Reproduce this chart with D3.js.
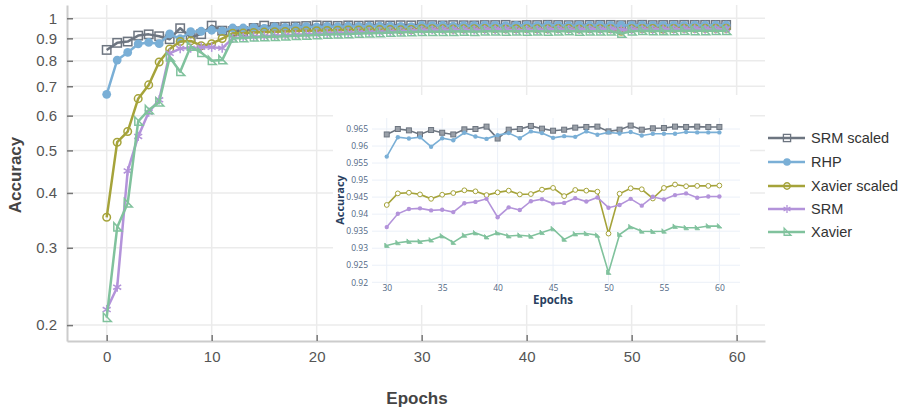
<!DOCTYPE html>
<html><head><meta charset="utf-8">
<script src="https://cdn.jsdelivr.net/npm/d3@7"></script>
<style>html,body{margin:0;padding:0;background:#fff;}svg{display:block;}</style>
</head><body>
<svg id="c" width="898" height="407"></svg>
<script>
// ---------- DATA ----------
const seriesNames = ["SRM scaled", "RHP", "Xavier scaled", "SRM", "Xavier"];
const epochsMain = d3.range(0, 60);
const srmScaled = [0.847,0.879,0.885,0.913,0.919,0.910,0.896,0.949,0.905,0.920,0.962,0.937,0.935,
  0.935,0.950,0.962,0.955,0.957,0.958,0.960,0.963,0.962,0.961,0.963,0.962,0.963,0.964,0.963,0.964,
  0.9634,0.9650,0.9646,0.9634,0.9647,0.9639,0.9634,0.9649,0.9650,0.9657,0.9622,0.9648,0.9650,0.9659,0.9651,0.9645,0.9648,0.9654,0.9656,0.9657,0.9643,0.9648,0.9660,0.9648,0.9652,0.9653,0.9657,0.9656,0.9657,0.9656,0.9656];
const rhp = [0.671,0.803,0.836,0.874,0.881,0.875,0.921,0.898,0.932,0.934,0.939,0.936,0.950,
  0.950,0.952,0.948,0.955,0.953,0.956,0.957,0.955,0.958,0.957,0.959,0.958,0.960,0.959,0.960,0.958,
  0.9569,0.9626,0.9622,0.9626,0.9598,0.9623,0.9617,0.9639,0.9628,0.9621,0.9632,0.9638,0.9623,0.9643,0.9638,0.9624,0.9629,0.9627,0.9643,0.9633,0.9640,0.9637,0.9641,0.9631,0.9636,0.9636,0.9636,0.9641,0.9640,0.9640,0.9640];
const xavierScaled = [0.352,0.522,0.552,0.656,0.705,0.795,0.851,0.885,0.888,0.866,0.875,0.899,0.924,
  0.925,0.928,0.930,0.932,0.933,0.935,0.936,0.937,0.938,0.939,0.940,0.940,0.941,0.942,0.942,0.941,
  0.9427,0.9461,0.9463,0.9458,0.9445,0.9457,0.9462,0.9470,0.9467,0.9456,0.9464,0.9469,0.9458,0.9459,0.9472,0.9477,0.9453,0.9471,0.9469,0.9466,0.9343,0.9460,0.9476,0.9473,0.9446,0.9477,0.9487,0.9482,0.9483,0.9483,0.9484];
const srm = [0.217,0.244,0.449,0.538,0.611,0.652,0.832,0.853,0.855,0.859,0.859,0.855,0.900,
  0.905,0.908,0.910,0.912,0.915,0.917,0.920,0.922,0.924,0.925,0.927,0.929,0.930,0.931,0.933,0.934,
  0.9362,0.9401,0.9415,0.9417,0.9411,0.9413,0.9406,0.9432,0.9436,0.9445,0.9391,0.9420,0.9412,0.9438,0.9444,0.9431,0.9433,0.9447,0.9437,0.9449,0.9419,0.9427,0.9445,0.9425,0.9451,0.9443,0.9456,0.9461,0.9448,0.9452,0.9452];
const xavier = [0.208,0.334,0.379,0.582,0.618,0.644,0.815,0.755,0.862,0.835,0.800,0.803,0.900,
  0.902,0.905,0.907,0.908,0.910,0.912,0.914,0.916,0.918,0.920,0.921,0.923,0.924,0.926,0.928,0.929,
  0.9308,0.9316,0.9320,0.9320,0.9324,0.9336,0.9317,0.9338,0.9345,0.9333,0.9345,0.9336,0.9338,0.9335,0.9346,0.9357,0.9326,0.9342,0.9343,0.9338,0.9229,0.9340,0.9363,0.9350,0.9349,0.9350,0.9364,0.9360,0.9360,0.9365,0.9365];

const epochsInset = d3.range(30, 61);
const insetSrmScaled = [0.9634,0.9650,0.9646,0.9634,0.9647,0.9639,0.9634,0.9649,0.9650,0.9657,0.9622,0.9648,0.9650,0.9659,0.9651,0.9645,0.9648,0.9654,0.9656,0.9657,0.9643,0.9648,0.9660,0.9648,0.9652,0.9653,0.9657,0.9656,0.9657,0.9656,0.9656];
const insetRhp = [0.9569,0.9626,0.9622,0.9626,0.9598,0.9623,0.9617,0.9639,0.9628,0.9621,0.9632,0.9638,0.9623,0.9643,0.9638,0.9624,0.9629,0.9627,0.9643,0.9633,0.9640,0.9637,0.9641,0.9631,0.9636,0.9636,0.9636,0.9641,0.9640,0.9640,0.9640];
const insetXavierScaled = [0.9427,0.9461,0.9463,0.9458,0.9445,0.9457,0.9462,0.9470,0.9467,0.9456,0.9464,0.9469,0.9458,0.9459,0.9472,0.9477,0.9453,0.9471,0.9469,0.9466,0.9343,0.9460,0.9476,0.9473,0.9446,0.9477,0.9487,0.9482,0.9483,0.9483,0.9484];
const insetSrm = [0.9362,0.9401,0.9415,0.9417,0.9411,0.9413,0.9406,0.9432,0.9436,0.9445,0.9391,0.9420,0.9412,0.9438,0.9444,0.9431,0.9433,0.9447,0.9437,0.9449,0.9419,0.9427,0.9445,0.9425,0.9451,0.9443,0.9456,0.9461,0.9448,0.9452,0.9452];
const insetXavier = [0.9308,0.9316,0.9320,0.9320,0.9324,0.9336,0.9317,0.9338,0.9345,0.9333,0.9345,0.9336,0.9338,0.9335,0.9346,0.9357,0.9326,0.9342,0.9343,0.9338,0.9229,0.9340,0.9363,0.9350,0.9349,0.9350,0.9364,0.9360,0.9360,0.9365,0.9365];

const mainYTicks = [0.2,0.3,0.4,0.5,0.6,0.7,0.8,0.9,1];
const mainXTicks = [0,10,20,30,40,50,60];
const insetYTicks = [0.92,0.925,0.93,0.935,0.94,0.945,0.95,0.955,0.96,0.965];
const insetXTicks = [30,35,40,45,50,55,60];

// ---------- STYLE ----------
const colors = ["#6d7580", "#7aafd6", "#a5a33a", "#b393da", "#80c29d"];
const markers = ["square", "dot", "circle", "star", "tri"];
const mainSeries = [srmScaled, rhp, xavierScaled, srm, xavier];
const insetSeries = [insetSrmScaled, insetRhp, insetXavierScaled, insetSrm, insetXavier];

const svg = d3.select("#c");
const FONT = "'Liberation Sans', Arial, sans-serif";

function drawMarker(g, type, color, s, sw) {
  if (type === "square") {
    g.append("rect").attr("x", -s).attr("y", -s).attr("width", 2*s).attr("height", 2*s)
      .attr("fill", "none").attr("stroke", color).attr("stroke-width", sw);
  } else if (type === "dot") {
    g.append("circle").attr("r", s*1.05).attr("fill", color);
  } else if (type === "circle") {
    g.append("circle").attr("r", s*0.9).attr("fill", "none").attr("stroke", color).attr("stroke-width", sw);
  } else if (type === "star") {
    [0, 60, 120].forEach(a => {
      const r = a * Math.PI / 180, dx = Math.sin(r)*s*1.1, dy = Math.cos(r)*s*1.1;
      g.append("line").attr("x1", -dx).attr("y1", -dy).attr("x2", dx).attr("y2", dy)
        .attr("stroke", color).attr("stroke-width", sw);
    });
  } else if (type === "tri") {
    g.append("path").attr("d", `M${-s*0.8},${-s*1.1} L${-s*0.8},${s*0.9} L${s*1.1},${s*0.9} Z`)
      .attr("fill", "none").attr("stroke", color).attr("stroke-width", sw);
  }
}

// ---------- MAIN CHART ----------
const L = 67, R = 765, T = 5, B = 341;
const x = d3.scaleLinear().domain([-3.78, 62.7]).range([L, R]);
const y = d3.scaleLog().domain([0.184, 1.072]).range([B, T]);

const grid = svg.append("g");
mainYTicks.forEach(t => grid.append("line").attr("x1", L).attr("x2", R).attr("y1", y(t)).attr("y2", y(t))
  .attr("stroke", "#ebebeb").attr("stroke-width", 1.5));
mainXTicks.forEach(t => grid.append("line").attr("x1", x(t)).attr("x2", x(t)).attr("y1", T).attr("y2", B)
  .attr("stroke", "#ebebeb").attr("stroke-width", 1.5));

const yAxis = d3.axisLeft(y).tickValues(mainYTicks).tickFormat(d3.format("")).tickSizeInner(-6).tickSizeOuter(0).tickPadding(4);
const xAxis = d3.axisBottom(x).tickValues(mainXTicks).tickFormat(d3.format("d")).tickSizeInner(-6).tickSizeOuter(0).tickPadding(10);
const gy = svg.append("g").attr("transform", `translate(${L},0)`).call(yAxis);
const gx = svg.append("g").attr("transform", `translate(0,${B})`).call(xAxis);
[gx, gy].forEach(g => {
  g.select(".domain").attr("stroke", "#cccccc").attr("stroke-width", 2);
  g.selectAll(".tick line").attr("stroke", "#777").attr("stroke-width", 1.5);
  g.selectAll(".tick text").attr("fill", "#555").style("font-family", FONT).style("font-size", "15px");
});
gy.selectAll(".tick text").attr("x", -10);

svg.append("text").attr("x", 417).attr("y", 404).attr("text-anchor", "middle")
  .style("font-family", FONT).style("font-size", "17px").style("font-weight", "bold").attr("fill", "#444").text("Epochs");
svg.append("text").attr("transform", "translate(21,175) rotate(-90)").attr("text-anchor", "middle")
  .style("font-family", FONT).style("font-size", "17px").style("font-weight", "bold").attr("fill", "#444").text("Accuracy");

const line = d3.line().x((d, i) => x(epochsMain[i])).y(d => y(d));
mainSeries.forEach((s, k) => {
  const g = svg.append("g");
  g.append("path").attr("d", line(s)).attr("fill", "none").attr("stroke", colors[k]).attr("stroke-width", 2.5)
    .attr("stroke-linejoin", "round");
  s.forEach((v, i) => {
    const m = g.append("g").attr("transform", `translate(${x(epochsMain[i])},${y(v)})`);
    drawMarker(m, markers[k], colors[k], 4.2, 1.5);
  });
});

// ---------- LEGEND ----------
const legY = [138, 162, 186, 209, 232];
seriesNames.forEach((n, k) => {
  const g = svg.append("g").attr("transform", `translate(0,${legY[k]})`);
  g.append("line").attr("x1", 768).attr("x2", 805).attr("y1", 0).attr("y2", 0).attr("stroke", colors[k]).attr("stroke-width", 2.5);
  const m = g.append("g").attr("transform", "translate(787,0)");
  drawMarker(m, markers[k], colors[k], 3.6, 1.3);
  g.append("text").attr("x", 811).attr("y", 5.3).style("font-family", FONT).style("font-size", "14.5px").attr("fill", "#333").text(n);
});

// ---------- INSET ----------
svg.append("rect").attr("x", 333).attr("y", 95).attr("width", 417).attr("height", 210).attr("fill", "#fff");
const IL = 372, IR = 740, IT = 118, IB = 285;
const ix = d3.scaleLinear().domain([28.67, 61.86]).range([IL, IR]);
const iy = d3.scaleLinear().domain([0.9192, 0.96823]).range([IB, IT]);
const ig = svg.append("g");
insetYTicks.forEach(t => ig.append("line").attr("x1", IL).attr("x2", IR).attr("y1", iy(t)).attr("y2", iy(t))
  .attr("stroke", "#ebf0f8").attr("stroke-width", 1));
insetXTicks.forEach(t => ig.append("line").attr("x1", ix(t)).attr("x2", ix(t)).attr("y1", IT).attr("y2", IB)
  .attr("stroke", "#ebf0f8").attr("stroke-width", 1));
const IFONT = "'Open Sans', sans-serif";
const iyAxis = d3.axisLeft(iy).tickValues(insetYTicks).tickFormat(d => String(+d.toFixed(3))).tickSize(0).tickPadding(4);
const ixAxis = d3.axisBottom(ix).tickValues(insetXTicks).tickFormat(d3.format("d")).tickSize(0).tickPadding(0);
const igy = svg.append("g").attr("transform", `translate(${IL},0)`).call(iyAxis);
const igx = svg.append("g").attr("transform", `translate(0,${IB})`).call(ixAxis);
[igx, igy].forEach(g => {
  g.select(".domain").remove();
  g.selectAll(".tick text").attr("fill", "#506784").style("font-family", IFONT).style("font-size", "8.5px");
});
svg.append("text").attr("x", 553).attr("y", 304).attr("text-anchor", "middle")
  .style("font-family", IFONT).style("font-size", "11.5px").style("font-weight", "bold").attr("fill", "#2a3f5f").text("Epochs");
svg.append("text").attr("transform", "translate(344,200) rotate(-90)").attr("text-anchor", "middle")
  .style("font-family", IFONT).style("font-size", "11px").style("font-weight", "bold").attr("fill", "#2a3f5f").text("Accuracy");

const iline = d3.line().x((d, i) => ix(epochsInset[i])).y(d => iy(d));
insetSeries.forEach((s, k) => {
  const g = svg.append("g");
  g.append("path").attr("d", iline(s)).attr("fill", "none").attr("stroke", colors[k]).attr("stroke-width", 1.6);
  s.forEach((v, i) => {
    const m = g.append("g").attr("transform", `translate(${ix(epochsInset[i])},${iy(v)})`);
    const t = markers[k];
    if (t === "square") m.append("rect").attr("x", -2.5).attr("y", -2.5).attr("width", 5).attr("height", 5).attr("fill", "#9aa0a8").attr("stroke", colors[k]).attr("stroke-width", 1);
    else if (t === "circle") m.append("circle").attr("r", 2.4).attr("fill", "#fff").attr("stroke", colors[k]).attr("stroke-width", 1);
    else if (t === "tri") m.append("path").attr("d", "M-2,-2.5 L-2,2 L2.5,2 Z").attr("fill", colors[k]).attr("stroke", colors[k]).attr("stroke-width", 0.8);
    else m.append("circle").attr("r", 2.2).attr("fill", colors[k]);
  });
});
</script>
</body></html>
